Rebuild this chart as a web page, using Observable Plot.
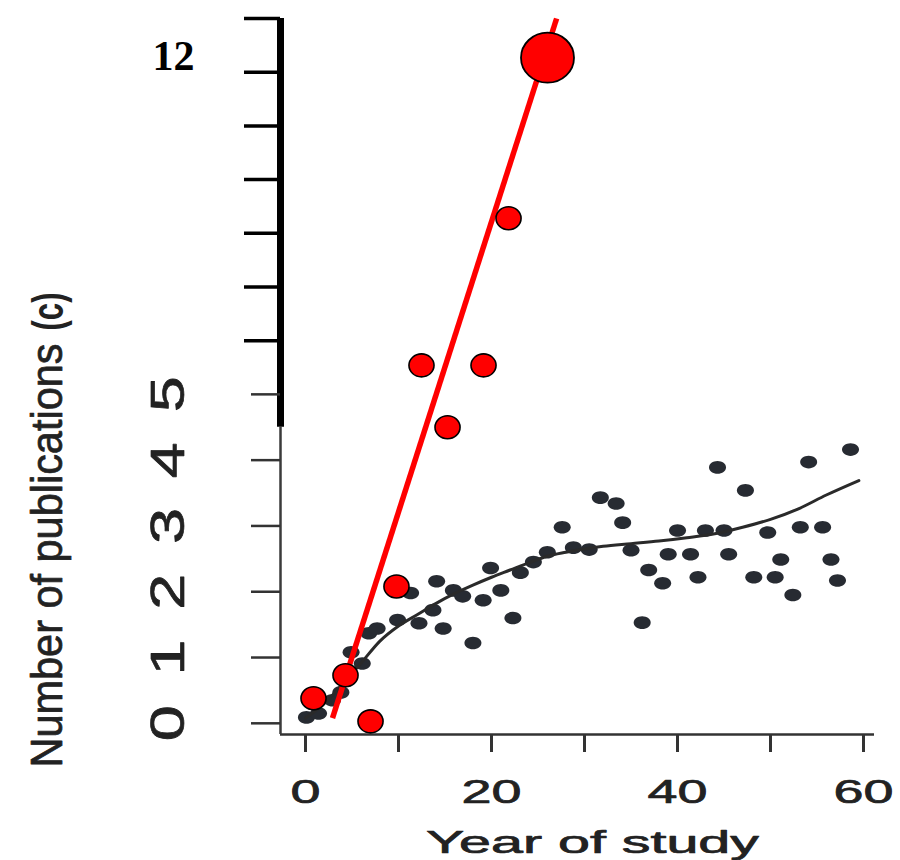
<!DOCTYPE html>
<html>
<head>
<meta charset="utf-8">
<script src="https://cdn.jsdelivr.net/npm/d3@7"></script>
<script src="https://cdn.jsdelivr.net/npm/@observablehq/plot@0.6"></script>
<style>
  html, body { margin: 0; padding: 0; background: #ffffff; }
  #chart { width: 900px; height: 860px; }
</style>
</head>
<body>
<div id="chart"></div>
<script>
// ---------- data ----------
const xTitle = "Year of study";
const yTitle = "Number of publications";
const panelTag = "(c)";
const upperLabel = "12";

const xTicks = [0, 10, 20, 30, 40, 50, 60];
const xTickLabels = [0, 20, 40, 60];
const lowerYTicks = [0, 1, 2, 3, 4, 5];
const upperYTicks = [6, 7, 8, 9, 10, 11, 12];

// scanned black scatter (Year of study, Number of publications)
const blackX = [0.1, 1.4, 2.9, 3.8, 4.9, 6.1, 6.8, 7.7, 9.9, 11.3, 12.2, 13.7, 14.1, 14.8, 15.9, 16.9, 18.0, 19.1, 19.9, 21.0, 22.3, 23.1, 24.5, 26.0, 27.6, 28.8, 30.5, 31.7, 33.4, 34.1, 35.0, 36.2, 36.9, 38.4, 39.0, 40.0, 41.4, 42.2, 43.0, 44.3, 45.0, 45.5, 47.3, 48.2, 49.7, 50.5, 51.1, 52.4, 53.2, 54.1, 55.6, 56.5, 57.2, 58.6];
const blackY = [0.09, 0.15, 0.35, 0.47, 1.08, 0.91, 1.37, 1.44, 1.57, 1.98, 1.52, 1.72, 2.16, 1.44, 2.02, 1.93, 1.22, 1.87, 2.36, 2.02, 1.60, 2.29, 2.45, 2.60, 2.98, 2.67, 2.64, 3.43, 3.34, 3.05, 2.63, 1.53, 2.33, 2.13, 2.57, 2.93, 2.57, 2.22, 2.93, 3.89, 2.93, 2.57, 3.54, 2.22, 2.90, 2.22, 2.49, 1.95, 2.98, 3.97, 2.98, 2.49, 2.17, 4.16];

// scanned smooth trend
const curveX = [0, 2, 4, 6, 8, 10, 12, 14, 16, 18, 20, 22, 24, 26, 28, 30, 32, 35, 38, 41, 44, 47, 50, 53, 56, 59.5];
const curveY = [0.08, 0.3, 0.6, 0.92, 1.25, 1.48, 1.65, 1.82, 1.97, 2.1, 2.22, 2.33, 2.44, 2.54, 2.6, 2.65, 2.69, 2.73, 2.77, 2.82, 2.88, 2.98, 3.1, 3.26, 3.47, 3.69];

// red overlay points (last one is the highlighted large point)
const redX = [0.86, 4.3, 6.99, 9.78, 12.47, 19.14, 15.27, 21.83, 26.02];
const redY = [0.38, 0.73, 0.03, 2.08, 5.54, 5.54, 4.50, 8.28, 11.27];

// red trend line end points
const redLineX = [2.9, 27.0];
const redLineY = [0.08, 12.0];

// ---------- scales ----------
// the axis above 5 is drawn with a tighter spacing than below 5
const yBreakValue = 5;
const upperRatio = 53.7 / 65.8;
const warp = v => (v <= yBreakValue ? v : yBreakValue + (v - yBreakValue) * upperRatio);
const xDomain = [-2.69, 61.18];
const yMin = -0.17;
const yMax = 12;
const yBreak = 4.5;

const black = blackX.map((x, i) => ({x, y: blackY[i]}));
const curve = curveX.map((x, i) => ({x, y: curveY[i]}));
const red = redX.map((x, i) => ({x, y: redY[i]}));
const redSmall = red.slice(0, -1);
const redBig = red.slice(-1);
const redLine = [{x1: redLineX[0], y1: redLineY[0], x2: redLineX[1], y2: redLineY[1]}];

function ellipseSymbol(k) {
  return {
    draw(context, size) {
      const ry = Math.sqrt(size / Math.PI);
      const rx = ry * k;
      const c = 0.5523;
      context.moveTo(rx, 0);
      context.bezierCurveTo(rx, c * ry, c * rx, ry, 0, ry);
      context.bezierCurveTo(-c * rx, ry, -rx, c * ry, -rx, 0);
      context.bezierCurveTo(-rx, -c * ry, -c * rx, -ry, 0, -ry);
      context.bezierCurveTo(c * rx, -ry, rx, -c * ry, rx, 0);
      context.closePath();
    }
  };
}

const mid = {textAnchor: "middle", lineAnchor: "middle"};
const scanInk = {fill: "#222", stroke: "#222", strokeWidth: 0.7};

const plot = Plot.plot({
  width: 900,
  height: 860,
  marginLeft: 280,
  marginRight: 26,
  marginTop: 18,
  marginBottom: 126,
  x: {domain: xDomain, axis: null},
  y: {transform: warp, domain: [warp(yMin), warp(yMax)], axis: null},
  style: {background: "#ffffff", fontFamily: "'Liberation Sans', Arial, sans-serif", color: "#222"},
  marks: [
    // axes (axis tick values are given in the scale's transformed space)
    Plot.ruleY([yMin], {stroke: "#333", strokeWidth: 2.5}),
    Plot.ruleX([xDomain[0]], {y1: yMin, y2: yBreak, stroke: "#3a3a3a", strokeWidth: 2.5}),
    Plot.ruleX([xDomain[0]], {y1: yBreak, y2: yMax, stroke: "#000", strokeWidth: 7}),
    Plot.axisY({ticks: lowerYTicks.map(warp), tickSize: 29, stroke: "#333", strokeWidth: 2.5, fill: "none", label: null}),
    Plot.axisY({ticks: upperYTicks.map(warp), tickSize: 36, stroke: "#000", strokeWidth: 3.5, fill: "none", label: null}),
    Plot.axisX({ticks: xTicks, tickSize: 18, stroke: "#333", strokeWidth: 3, fill: "none", label: null}),
    // scanned data
    Plot.dot(black, {x: "x", y: "y", r: 6.3, symbol: ellipseSymbol(1.35), fill: "#272b32", stroke: "none"}),
    Plot.line(curve, {x: "x", y: "y", stroke: "#2a2a2a", strokeWidth: 3, curve: "monotone-x"}),
    // red overlay
    Plot.link(redLine, {x1: "x1", y1: "y1", x2: "x2", y2: "y2", stroke: "#ff0000", strokeWidth: 5.5}),
    Plot.dot(redSmall, {x: "x", y: "y", r: 11.5, symbol: ellipseSymbol(1.09), fill: "#ff0000", stroke: "#000", strokeWidth: 1.6}),
    Plot.dot(redBig, {x: "x", y: "y", r: 25, symbol: ellipseSymbol(1.06), fill: "#ff0000", stroke: "#000", strokeWidth: 1.8}),
    // texts
    Plot.text(lowerYTicks, {y: d => d, text: d => String(d), frameAnchor: "left", dx: -112, rotate: -90, fontSize: 48, ...scanInk, ...mid}),
    Plot.text(xTickLabels, {x: d => d, text: d => String(d), frameAnchor: "bottom", dy: 44, lineAnchor: "top", textAnchor: "middle", fontSize: 34, ...scanInk}),
    Plot.text([xTitle], {text: d => d, frameAnchor: "bottom", dx: 15, dy: 96, lineAnchor: "top", textAnchor: "middle", fontSize: 32, ...scanInk}),
    Plot.text([yTitle], {text: d => d, frameAnchor: "left", dx: -233, dy: 179, rotate: -90, fontSize: 44, ...scanInk, ...mid}),
    Plot.text([panelTag], {text: d => d, frameAnchor: "left", dx: -232, dy: -65, rotate: -90, fontSize: 44, fontWeight: "bold", fill: "#222", ...mid}),
    Plot.text([upperLabel], {text: d => d, frameAnchor: "top-left", dx: -107, dy: 38, fontSize: 42, fontWeight: "bold", fontFamily: "'Liberation Serif', 'Times New Roman', serif", fill: "#000", ...mid})
  ]
});

// stretch the scanned-style lettering to the widths seen in the figure
const groups = plot.querySelectorAll('g[aria-label="text"]');
const lengthRules = [
  t => 36,
  t => 30 * t.textContent.length,
  t => 333,
  t => 424,
  t => 38,
  t => null
];
groups.forEach((g, gi) => {
  const rule = lengthRules[gi];
  if (!rule) return;
  g.querySelectorAll("text").forEach(t => {
    const L = rule(t);
    if (L) {
      t.setAttribute("textLength", L);
      t.setAttribute("lengthAdjust", "spacingAndGlyphs");
    }
  });
});

document.getElementById("chart").appendChild(plot);
</script>
</body>
</html>
